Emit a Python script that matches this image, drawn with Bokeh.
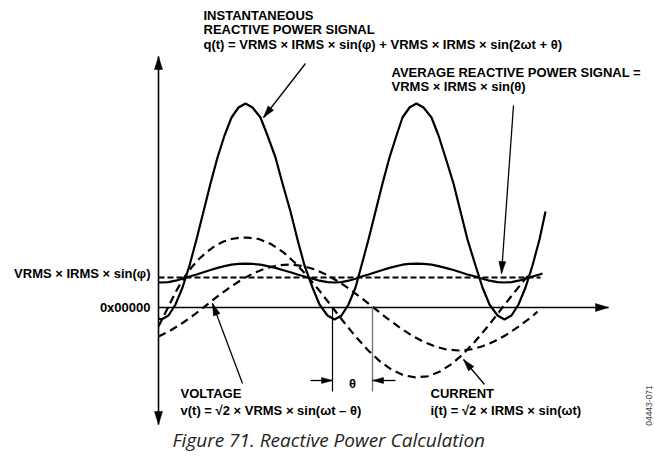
import math
from bokeh.plotting import figure
from bokeh.models import Range1d
from bokeh.core.properties import value
from bokeh.embed import file_html
from bokeh.resources import INLINE

# ---- signal data (t: time units from the origin, values: amplitude units) ----
q_t = [0, 3, 10, 17, 24, 31, 38, 45, 52, 59, 66, 73, 80, 87,
       94, 102, 109, 117, 124, 132, 139, 146, 154, 161, 169, 176,
       183, 190, 197, 203, 210, 217, 224, 231, 238, 244, 251, 258,
       265, 273, 280, 287, 295, 302, 309, 317, 324, 331, 339, 346,
       353, 360, 367, 374, 381, 387]
q_val = [-11, -12, -8, 3, 20, 42, 68, 96, 124, 150, 172, 190, 200, 204,
         200, 190, 172, 150, 124, 96, 68, 42, 20, 3, -8, -12,
         -8, 3, 20, 42, 68, 96, 124, 150, 172, 190, 200, 204,
         200, 190, 172, 150, 124, 96, 68, 42, 20, 3, -8, -12,
         -8, 3, 20, 42, 68, 96]

ripple_t = [0, 3, 10, 17, 24, 31, 38, 45, 52, 59, 66, 73, 80, 87,
            94, 102, 109, 117, 124, 132, 139, 146, 154, 161, 169, 176,
            183, 190, 197, 203, 210, 217, 224, 231, 238, 244, 251, 258,
            265, 273, 280, 287, 295, 302, 309, 317, 324, 331, 339, 346,
            353, 360, 367, 374, 381, 384]
ripple_val = [25.1, 25.0, 25.4, 26.8, 28.8, 31.0, 33.0, 35.3, 37.5, 39.6, 41.4, 42.8, 43.6, 43.9,
              43.6, 42.8, 41.4, 39.6, 37.5, 35.3, 33.0, 31.0, 28.8, 26.8, 25.4, 25.0,
              25.4, 26.8, 28.8, 31.0, 33.0, 35.3, 37.5, 39.6, 41.4, 42.8, 43.6, 43.9,
              43.6, 42.8, 41.4, 39.6, 37.5, 35.3, 33.0, 31.0, 28.8, 26.8, 25.4, 25.0,
              25.4, 26.8, 28.8, 31.0, 33.0, 34.0]

current_t = [0, 6, 12, 18, 25, 33, 41, 49, 57, 65, 73, 81, 89,
             101, 113, 125, 137, 149, 161, 173, 185, 197, 209, 221, 233,
             245, 257, 269, 281, 293, 305, 317, 329, 341, 353, 365, 373]
current_val = [-19, -7, 5, 17, 29, 40, 49, 56, 62, 66, 68.5, 69.7, 70,
               68.3, 63.2, 55.1, 44.3, 31.2, 16.7, 1.3, -14.1, -28.9, -42.2, -53.5, -62.1,
               -67.7, -69.9, -68.8, -64.3, -56.6, -46.2, -33.5, -19.2, -3.9, 11.6, 26.5, 35.7]

voltage_t = [0, 12, 24, 36, 48, 60, 72, 84, 96, 108, 120, 132, 144, 156, 168, 180,
             192, 204, 216, 228, 240, 252, 264, 276, 288, 300, 312, 324, 336, 348, 360, 372, 379]
voltage_val = [-29, -23, -15.5, -7, 2.4, 11.8, 20.6, 28.4, 34.8, 39.5, 42.3, 43.0, 41.6, 38.1, 32.8, 25.9,
               17.8, 8.6, -0.8, -10.3, -19.2, -27.2, -33.8, -38.8, -42.0, -43.0, -42.0, -38.8, -33.8, -27.2, -19.2, -10.3, -4.2]

avg_level = 30          # VRMS x IRMS x sin(phi)
avg_t_end = 382
theta_t = [174, 214]    # zero crossings of current and voltage
axis_t_end = 450
axis_y_top = 251
axis_y_bottom = -117

labels_y = ["VRMS × IRMS × sin(φ)", "0x00000"]

FONT = value("Liberation Sans")

p = figure(width=655, height=460, output_backend="svg", toolbar_location=None,
           x_range=Range1d(-158, 497), y_range=Range1d(-153, 307),
           x_axis_type=None, y_axis_type=None, min_border=0)
p.outline_line_color = None
p.grid.visible = False
p.background_fill_color = "white"


def head(xa, ya, xb, yb, L=12, W=7):
    dx, dy = xb - xa, yb - ya
    n = math.hypot(dx, dy)
    ux, uy = dx / n, dy / n
    bx, by = xb - ux * L, yb - uy * L
    px, py = -uy * W / 2, ux * W / 2
    p.patch([xb, bx + px, bx - px], [yb, by + py, by - py],
            fill_color="black", line_color="black", line_width=0.5)


def arrow(x0, y0, x1, y1, lw=1.3, both=False, L=12, W=7):
    p.line([x0, x1], [y0, y1], line_color="black", line_width=lw)
    head(x0, y0, x1, y1, L, W)
    if both:
        head(x1, y1, x0, y0, L, W)


# axes
arrow(0, 0, axis_t_end, 0, lw=1.6, L=13, W=8)
arrow(0, axis_y_bottom, 0, axis_y_top, lw=1.6, both=True, L=13, W=8)

# average level (dashed)
p.line([0, avg_t_end], [avg_level, avg_level], line_color="black", line_width=2, line_dash="6 3")

# signals
p.line(q_t, q_val, line_color="black", line_width=2.2, line_join="round")
p.line(ripple_t, ripple_val, line_color="black", line_width=2.2, line_join="round")
p.line(current_t, current_val, line_color="black", line_width=2.2, line_dash="8 5", line_join="round")
p.line(voltage_t, voltage_val, line_color="black", line_width=2.2, line_dash="8 5", line_join="round")

# theta markers
p.line([theta_t[0], theta_t[0]], [0, -84], line_color="black", line_width=1.2)
p.line([theta_t[1], theta_t[1]], [0, -84], line_color="#777777", line_width=1.4)
arrow(theta_t[0] - 22, -73, theta_t[0], -73, lw=1.3, L=11, W=6)
arrow(theta_t[1] + 23, -73, theta_t[1], -73, lw=1.3, L=11, W=6)

# annotation arrows
arrow(147, 244, 105, 190)
arrow(355, 202, 343, 34)
arrow(84, -76, 54, 4)
arrow(326, -77, 305, -52)

bold = dict(text_font=FONT, text_font_style="bold", text_font_size="13px",
            text_color="black", text_baseline="alphabetic")

p.text(x=[45, 45, 45], y=[292, 278, 263.5],
       text=["INSTANTANEOUS", "REACTIVE POWER SIGNAL",
             "q(t) = VRMS × IRMS × sin(φ) + VRMS × IRMS × sin(2ωt + θ)"],
       text_align="left", **bold)
p.text(x=[233, 233], y=[235.5, 221],
       text=["AVERAGE REACTIVE POWER SIGNAL =", "VRMS × IRMS × sin(θ)"],
       text_align="left", **bold)
p.text(x=[-8, -8], y=[34, 0.5], text=labels_y, text_align="right", **bold)
p.text(x=[22, 22], y=[-85.5, -103],
       text=["VOLTAGE", "v(t) = √2 × VRMS × sin(ωt – θ)"], text_align="left", **bold)
p.text(x=[272, 272], y=[-85.5, -103],
       text=["CURRENT", "i(t) = √2 × IRMS × sin(ωt)"], text_align="left", **bold)
p.text(x=[194], y=[-75.5], text=["θ"], text_align="center", **bold)

p.text(x=[14], y=[-132], text=["Figure 71. Reactive Power Calculation"],
       text_font=value("Open Sans"), text_font_style="italic", text_font_size="19px",
       text_color="#231f20", text_align="left", text_baseline="alphabetic")

p.text(x=[490], y=[-98], text=["04443-071"], angle=math.pi / 2,
       text_font=FONT, text_font_size="8.5px", text_color="#444444",
       text_align="center", text_baseline="middle")

open("out.html", "w").write(file_html(p, INLINE))
